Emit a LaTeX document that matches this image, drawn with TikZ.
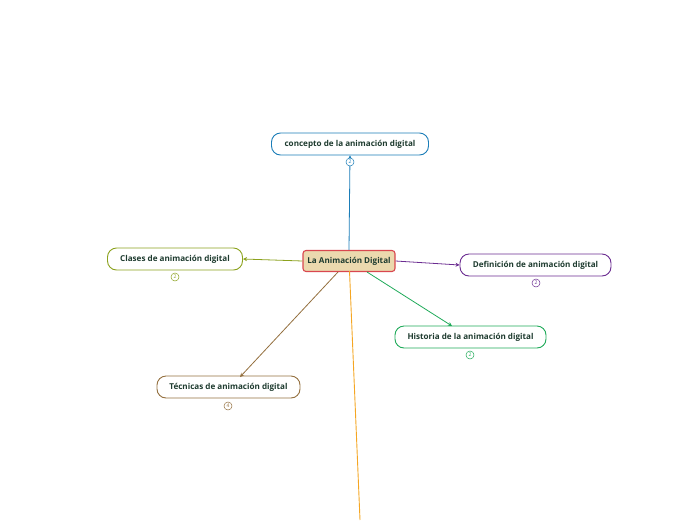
\documentclass[tikz,border=0pt]{standalone}
\usepackage{fontspec}
\setmainfont{Open Sans}
\usetikzlibrary{arrows.meta}
\definecolor{txt}{HTML}{1E3B2F}
\definecolor{cblue}{HTML}{1B7DB8}
\definecolor{colive}{HTML}{8CA21E}
\definecolor{cpurple}{HTML}{6B2C91}
\definecolor{cgreen}{HTML}{1FAA59}
\definecolor{cbrown}{HTML}{94703F}
\definecolor{corange}{HTML}{F5A623}
\definecolor{rootfill}{HTML}{EBD9AE}
\definecolor{rootdraw}{HTML}{D9474F}
\tikzset{
  topic/.style={draw, line width=0.9pt, rounded corners=9pt, fill=white, minimum height=22pt, inner sep=0pt, font=\fontsize{8.1}{9}\selectfont\bfseries, text=txt},
  rootbox/.style={draw=rootdraw, fill=rootfill, line width=1.1pt, rounded corners=3pt, minimum height=21pt, minimum width=92pt, inner sep=0pt, font=\fontsize{8.1}{9}\selectfont\bfseries, text=txt},
  cnt/.style={circle, draw, line width=0.5pt, fill=white, minimum size=8pt, inner sep=0pt, font=\fontsize{5}{5}\selectfont},
  link/.style={line width=0.8pt, -{Stealth[length=4pt,width=4pt]}}
}
\begin{document}
\begin{tikzpicture}[x=1pt,y=-1pt]
\useasboundingbox (0,0) rectangle (696,520);
% connectors
\coordinate (oend) at (360,520);
\node[rootbox] (root) at (349,261) {La Animación Digital};
\node[topic, draw=cblue, minimum width=157pt] (concept) at (350,144) {concepto de la animación digital};
\node[topic, draw=colive, minimum width=135pt] (clases) at (175,259) {Clases de animación digital};
\node[topic, draw=cpurple, minimum width=151pt] (def) at (535.5,265) {Definición de animación digital};
\node[topic, draw=cgreen, minimum width=151pt] (hist) at (470.5,337) {Historia de la animación digital};
\node[topic, draw=cbrown, minimum width=143pt] (tec) at (228.5,387) {Técnicas de animación digital};
\coordinate (rb) at (349.5,271);
\draw[corange, line width=0.9pt] (rb) -- (oend);
\draw[link, cblue] (root.north) -- (concept.south);
\draw[link, colive] (root.west) -- (clases.east);
\draw[link, cpurple] (root.east) -- (def.west);
\draw[link, cgreen] (367,272) -- (452,326);
\draw[link, cbrown] (338,272) -- (240,377);
\node[cnt, draw=cblue, text=cblue] (c1) at (350,162) {2};
\node[cnt, draw=colive, text=colive] (c2) at (175,277) {2};
\node[cnt, draw=cpurple, text=cpurple] (c3) at (536,283) {2};
\node[cnt, draw=cgreen, text=cgreen] (c4) at (470,355) {2};
\node[cnt, draw=cbrown, text=cbrown] (c5) at (228,406) {4};
\end{tikzpicture}
\end{document}
